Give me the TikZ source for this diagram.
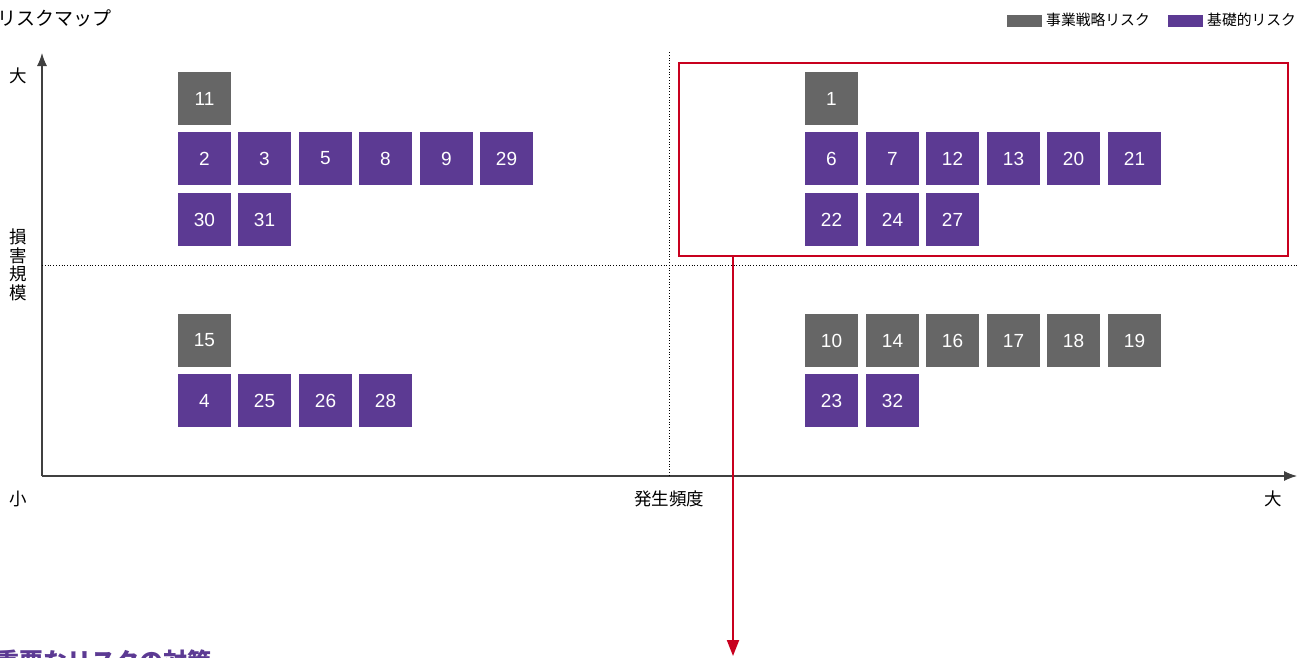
\documentclass[tikz,border=0pt]{standalone}
\usepackage{fontspec}
\setmainfont{Noto Sans CJK JP}
\newfontfamily\numfont{Liberation Sans}
\usetikzlibrary{arrows.meta}
\definecolor{rgray}{HTML}{666666}
\definecolor{rpurple}{HTML}{5C3A93}
\definecolor{rred}{HTML}{C8001E}
\tikzset{
  rbox/.style={minimum width=53pt, minimum height=53pt, inner sep=0pt, outer sep=0pt, text=white, font=\numfont\fontsize{19}{19}\selectfont},
  gbox/.style={rbox, fill=rgray},
  pbox/.style={rbox, fill=rpurple},
  axlab/.style={font=\fontsize{17.5}{18.5}\selectfont, inner sep=0pt},
  legtext/.style={font=\fontsize{14.8}{15}\selectfont, inner sep=0pt, anchor=west},
}
\begin{document}
\begin{tikzpicture}[x=1pt,y=-1pt]
\useasboundingbox (0,0) rectangle (1311,657);
% title
\node[anchor=west, inner sep=0pt, font=\fontsize{19}{19}\selectfont] (title) at (-3,18) {リスクマップ};
% legend
\node[fill=rgray, minimum width=35pt, minimum height=12pt, inner sep=0pt, anchor=west] (lg1) at (1007,21) {};
\node[legtext] (lg1t) at (1046,20) {事業戦略リスク};
\node[fill=rpurple, minimum width=35pt, minimum height=12pt, inner sep=0pt, anchor=west] (lg2) at (1168,21) {};
\node[legtext] (lg2t) at (1207,20) {基礎的リスク};
% axes
\coordinate (org) at (42,476);
\coordinate (ytop) at (42,53);
\coordinate (xend) at (1297,476);
\draw[line width=1.1pt, black!75, -{Latex[length=13pt,width=10pt]}] (org) -- (ytop);
\draw[line width=1.1pt, black!75, -{Latex[length=13pt,width=10pt]}] (org) -- (xend);
\coordinate (vtop) at (669,52);
\coordinate (vbot) at (669,476);
\coordinate (hl) at (42,265);
\coordinate (hr) at (1299,265);
\draw[dotted, line width=0.8pt] (vtop) -- (vbot);
\draw[dotted, line width=0.8pt] (hl) -- (hr);
% axis labels
\node[axlab] (ybig) at (18,76) {大};
\node[axlab, align=center] (ylab) at (18,265) {損\\害\\規\\模};
\node[axlab] (small) at (18,499) {小};
\node[axlab] (xlab) at (669,499) {発生頻度};
\node[axlab] (xbig) at (1273,499) {大};
% upper-left quadrant
\node[gbox] (b11) at (204.5,98.5) {11};
\node[pbox] (b2) at (204.5,158.5) {2};
\node[pbox] (b3) at (264.5,158.5) {3};
\node[pbox] (b5) at (325.5,158.5) {5};
\node[pbox] (b8) at (385.5,158.5) {8};
\node[pbox] (b9) at (446.5,158.5) {9};
\node[pbox] (b29) at (506.5,158.5) {29};
\node[pbox] (b30) at (204.5,219.5) {30};
\node[pbox] (b31) at (264.5,219.5) {31};
% lower-left quadrant
\node[gbox] (b15) at (204.5,340.5) {15};
\node[pbox] (b4) at (204.5,400.5) {4};
\node[pbox] (b25) at (264.5,400.5) {25};
\node[pbox] (b26) at (325.5,400.5) {26};
\node[pbox] (b28) at (385.5,400.5) {28};
% upper-right quadrant
\node[gbox] (b1) at (831.5,98.5) {1};
\node[pbox] (b6) at (831.5,158.5) {6};
\node[pbox] (b7) at (892.5,158.5) {7};
\node[pbox] (b12) at (952.5,158.5) {12};
\node[pbox] (b13) at (1013.5,158.5) {13};
\node[pbox] (b20) at (1073.5,158.5) {20};
\node[pbox] (b21) at (1134.5,158.5) {21};
\node[pbox] (b22) at (831.5,219.5) {22};
\node[pbox] (b24) at (892.5,219.5) {24};
\node[pbox] (b27) at (952.5,219.5) {27};
% lower-right quadrant
\node[gbox] (b10) at (831.5,340.5) {10};
\node[gbox] (b14) at (892.5,340.5) {14};
\node[gbox] (b16) at (952.5,340.5) {16};
\node[gbox] (b17) at (1013.5,340.5) {17};
\node[gbox] (b18) at (1073.5,340.5) {18};
\node[gbox] (b19) at (1134.5,340.5) {19};
\node[pbox] (b23) at (831.5,400.5) {23};
\node[pbox] (b32) at (892.5,400.5) {32};
% red highlight box
\node[draw=rred, line width=2.6pt, minimum width=609pt, minimum height=193pt, inner sep=0pt, outer sep=0pt, anchor=north west] (redbox) at (679,63) {};
\coordinate (aend) at (733,656);
\draw[rred, line width=2pt, -{Triangle[length=16pt,width=12pt]}] (redbox.south -| aend) -- (aend);
% bottom heading (cut off)
\node[anchor=west, inner sep=0pt, text=rpurple, font=\bfseries\fontsize{24}{24}\selectfont] (head) at (-5,661) {重要なリスクの対策};
\end{tikzpicture}
\end{document}
